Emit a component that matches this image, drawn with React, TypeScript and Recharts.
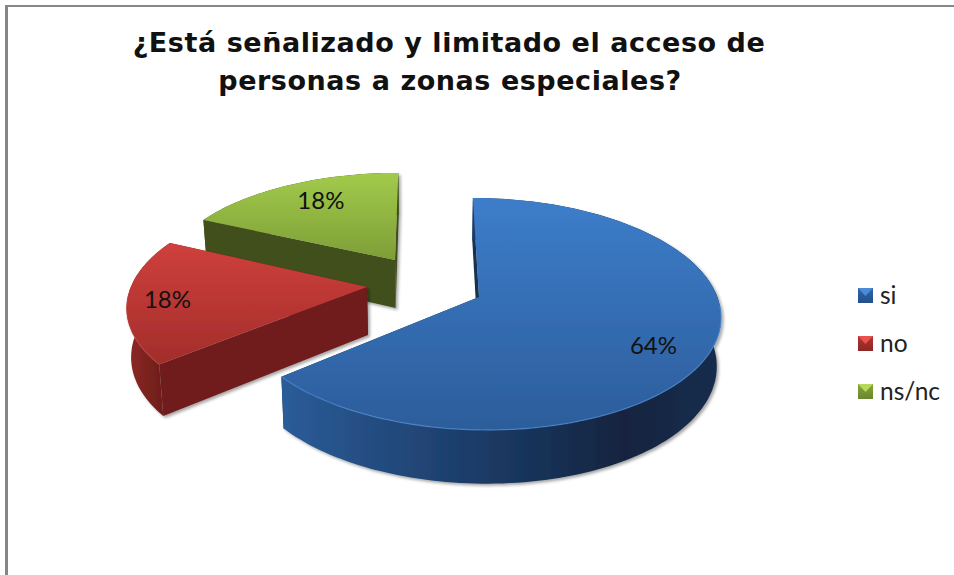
import React from "react";
import { PieChart, Pie, Legend } from "recharts";

const categories = ["si", "no", "ns/nc"];
const seriesValues = [64, 18, 18];
const titleLines = ["¿Está señalizado y limitado el acceso de", "personas a zonas especiales?"];

// Painted back-to-front, so the table runs counter-clockwise from the top: ns/nc, no, si.
const table = categories
  .map((name, i) => ({ name, value: seriesValues[i] }))
  .reverse();

type Pose = {
  dx: number; dy: number; sx: number; sy: number; shear: number;
  top: [string, string]; wall: [string, string, string, string]; flat: string; rim: string; rimOpacity: number;
  labelR: number; nudge: [number, number];
};
const poses: Record<string, Pose> = {
  si: {
    dx: 1, dy: 0, sx: 1.004, sy: 1, shear: 7,
    top: ["#3d7dca", "#2c5d9b"], wall: ["#2b5c98", "#1c3b67", "#12243f", "#172d4e"], flat: "#12304f", rim: "#4f8ad2", rimOpacity: 0.7,
    labelR: 0.76, nudge: [0, 9],
  },
  no: {
    dx: -111, dy: -10, sx: 0.995, sy: 0.97, shear: -10,
    top: ["#cf403c", "#a32d2b"], wall: ["#8f2b28", "#7a211e", "#6f1e1b", "#6f1e1b"], flat: "#6f1e1b", rim: "#d9534f", rimOpacity: 0.3,
    labelR: 0.83, nudge: [-1, 0],
  },
  "ns/nc": {
    dx: -83, dy: -37, sx: 0.955, sy: 0.88, shear: -4,
    top: ["#a2cb4b", "#7d9e37"], wall: ["#3f4f1b", "#3f4f1b", "#3f4f1b", "#3f4f1b"], flat: "#3f4f1b", rim: "#a2cb4b", rimOpacity: 0,
    labelR: 0.79, nudge: [11, 0],
  },
};

const TILT = 0.478; // vertical / horizontal radius ratio
const PERSP = 0.1466;
const DEPTH = 48;
const VANISH_X = 432;
const SHRINK = 0.985;
const RAD = Math.PI / 180;
const legendTop = [288, 336, 384];
const swatch: Record<string, [string, string, string]> = {
  si: ["#4a8ad6", "#2f66a8", "#24508a"],
  no: ["#e8524e", "#b23431", "#8c2725"],
  "ns/nc": ["#b4da58", "#86a63c", "#6b8530"],
};

function project(cx: number, cy: number, R: number, pose: Pose, deg: number, r: number) {
  const u = Math.cos(deg * RAD) * r;
  const v = -Math.sin(deg * RAD) * r;
  const den = 1 - PERSP * v;
  return {
    x: cx + pose.dx + (pose.sx * (R * u + pose.shear * v)) / den,
    y: cy + pose.dy + (pose.sy * R * TILT * v) / den,
    v,
  };
}
const lower = (p: { x: number; y: number; v: number }) => ({
  x: VANISH_X + (p.x - VANISH_X) * SHRINK,
  y: p.y + DEPTH * (1 + 0.12 * p.v),
  v: p.v,
});
const pts = (list: { x: number; y: number }[]) =>
  list.map((p) => `${p.x.toFixed(1)},${p.y.toFixed(1)}`).join(" ");

function Slice(props: any) {
  const { cx, cy, outerRadius, startAngle, endAngle, payload } = props;
  const name = payload?.name ?? props.name;
  const pose = poses[name];
  const id = name.replace("/", "");
  const a0 = Math.min(startAngle, endAngle);
  const a1 = Math.max(startAngle, endAngle);
  const arc: { x: number; y: number; v: number }[] = [];
  const steps = Math.ceil((a1 - a0) / 1.5);
  for (let i = 0; i <= steps; i++) {
    arc.push(project(cx, cy, outerRadius, pose, a0 + ((a1 - a0) * i) / steps, 1));
  }
  const apex = project(cx, cy, outerRadius, pose, 0, 0);
  const low = arc.map(lower);
  const lowApex = lower(apex);
  const first = arc[0];
  const last = arc[arc.length - 1];
  const front = arc.filter((p) => p.v > 0.05);
  return (
    <g filter="url(#softShadow)">
      <polygon points={pts([apex, first, lower(first), lowApex])} fill={pose.flat} />
      <polygon points={pts([apex, last, lower(last), lowApex])} fill={pose.flat} />
      <polygon points={pts([...arc, ...low.slice().reverse()])} fill={`url(#wall-${id})`} />
      <polygon points={pts([apex, ...arc])} fill={`url(#top-${id})`} />
      {front.length > 1 && pose.rimOpacity > 0 && (
        <polyline points={pts(front)} fill="none" stroke={pose.rim} strokeWidth={1.3} strokeOpacity={pose.rimOpacity} />
      )}
    </g>
  );
}

function PctLabel(props: any) {
  const { cx, cy, outerRadius, midAngle, percent, payload, name } = props;
  const pose = poses[payload?.name ?? name];
  const p = project(cx, cy, outerRadius, pose, midAngle, pose.labelR);
  return (
    <text
      x={p.x + pose.nudge[0]}
      y={p.y + pose.nudge[1]}
      textAnchor="middle"
      dominantBaseline="central"
      fontFamily="Lato, sans-serif"
      fontSize={24}
      fill="#111"
    >
      {`${Math.round(percent * 100)}%`}
    </text>
  );
}

function LegendBox() {
  return (
    <div style={{ position: "absolute", left: 0, top: 0, width: 954, height: 575, pointerEvents: "none" }}>
      {categories.map((c, i) => (
        <React.Fragment key={c}>
          <div
            style={{
              position: "absolute", left: 858, top: legendTop[i], width: 15, height: 15,
              background: `linear-gradient(${swatch[c][1]}, ${swatch[c][2]})`,
            }}
          >
            <div
              style={{
                position: "absolute", left: 0, top: 0, width: 15, height: 8,
                background: swatch[c][0], clipPath: "polygon(0 0, 100% 0, 50% 100%)",
              }}
            />
          </div>
          <span
            style={{
              position: "absolute", left: 880, top: legendTop[i] - 7, fontFamily: "Lato, sans-serif",
              fontSize: 24.5, lineHeight: "28px", color: "#222", whiteSpace: "nowrap",
            }}
          >
            {c}
          </span>
        </React.Fragment>
      ))}
    </div>
  );
}

export default function App() {
  return (
    <div style={{ position: "absolute", left: 0, top: 0, width: 954, height: 575, background: "#fff", overflow: "hidden" }}>
      <div style={{ position: "absolute", left: 5, top: 5, width: 949, height: 1.5, background: "#868686" }} />
      <div style={{ position: "absolute", left: 5, top: 5, width: 2.5, height: 570, background: "#868686" }} />
      <PieChart width={954} height={575} margin={{ top: 0, right: 0, bottom: 0, left: 0 }}>
        <defs>
          <filter id="softShadow" x="-5%" y="-5%" width="110%" height="112%">
            <feDropShadow dx={2} dy={2} stdDeviation={1.4} floodColor="#000" floodOpacity={0.35} />
          </filter>
          {categories.map((c) => {
            const pose = poses[c];
            const id = c.replace("/", "");
            return (
              <React.Fragment key={c}>
                <linearGradient id={`top-${id}`} x1="0" y1="0" x2="0" y2="1">
                  <stop offset="0%" stopColor={pose.top[0]} />
                  <stop offset="100%" stopColor={pose.top[1]} />
                </linearGradient>
                <linearGradient id={`wall-${id}`} x1="0" y1="0" x2="1" y2="0">
                  <stop offset="0%" stopColor={pose.wall[0]} />
                  <stop offset="45%" stopColor={pose.wall[1]} />
                  <stop offset="78%" stopColor={pose.wall[2]} />
                  <stop offset="100%" stopColor={pose.wall[3]} />
                </linearGradient>
              </React.Fragment>
            );
          })}
        </defs>
        <text textAnchor="middle" fontFamily="'DejaVu Sans', sans-serif" fontWeight={700} fontSize={27} letterSpacing={0.55} fill="#111">
          <tspan x={449} y={52}>{titleLines[0]}</tspan>
          <tspan x={450} y={90}>{titleLines[1]}</tspan>
        </text>
        <Pie
          data={table}
          dataKey="value"
          nameKey="name"
          cx={478}
          cy={297}
          outerRadius={237.4}
          startAngle={90}
          endAngle={450}
          stroke="none"
          isAnimationActive={false}
          labelLine={false}
          label={PctLabel}
          shape={Slice}
          activeShape={Slice}
          inactiveShape={Slice}
        />
        <Legend content={<LegendBox />} wrapperStyle={{ position: "absolute", left: 0, top: 0, width: 954, height: 575 }} />
      </PieChart>
    </div>
  );
}
